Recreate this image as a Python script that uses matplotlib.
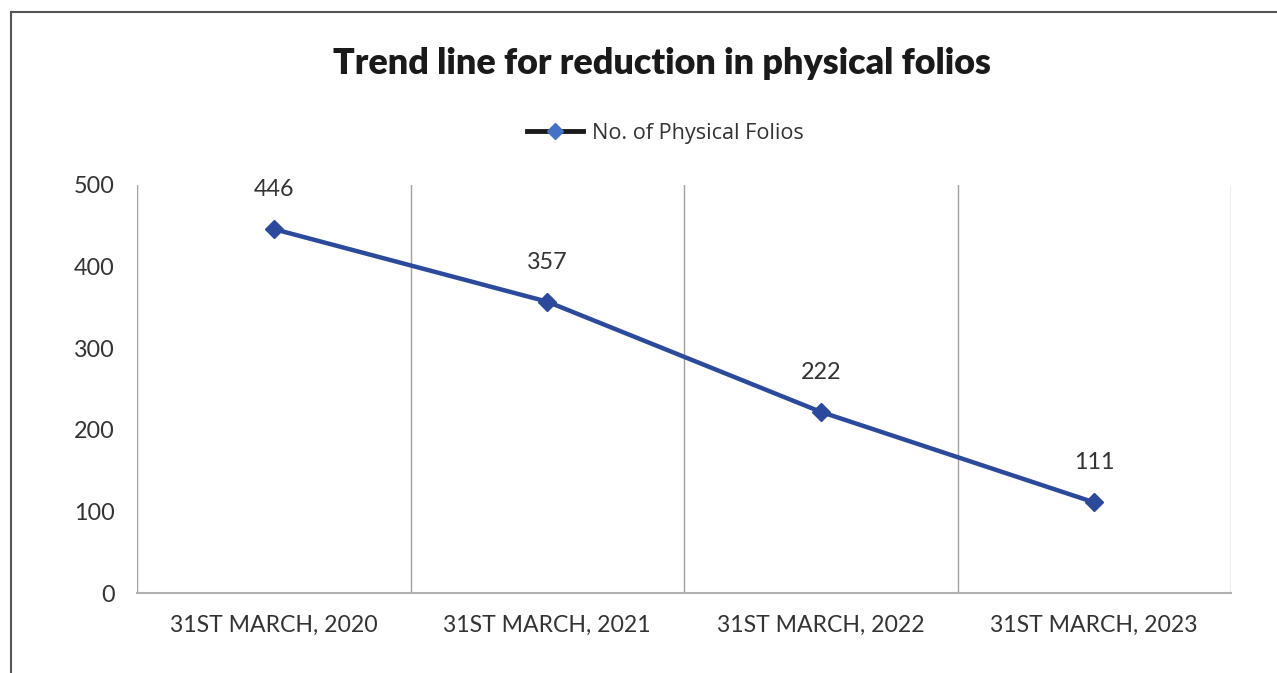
import matplotlib
matplotlib.use("Agg")
import matplotlib.pyplot as plt
from matplotlib.lines import Line2D

categories = ["31ST MARCH, 2020", "31ST MARCH, 2021", "31ST MARCH, 2022", "31ST MARCH, 2023"]
folios = [446, 357, 222, 111]
series_name = "No. of Physical Folios"
title = "Trend line for reduction in physical folios"
yticks = [0, 100, 200, 300, 400, 500]

W, H = 1277, 673
fig = plt.figure(figsize=(W / 100, H / 100), dpi=100)
ax = fig.add_axes([137 / W, 1 - 593 / H, (1231 - 137) / W, (593 - 185) / H])

blue = "#2B4A9C"
x = list(range(len(categories)))
ax.plot(x, folios, color=blue, lw=3.2, marker="D", ms=9, mfc=blue, mec=blue, zorder=3)
for xi, v in zip(x, folios):
    ax.annotate(str(v), (xi, v), xytext=(0, 21), textcoords="offset points",
                ha="center", va="bottom", fontsize=16.8, color="#333333", family="Lato")

ax.set_xlim(-0.5, len(categories) - 0.5)
ax.set_ylim(0, 500)
ax.set_yticks(yticks)
ax.set_yticklabels([str(t) for t in yticks], family="Lato", fontsize=16.8, color="#333333")
ax.set_xticks(x)
ax.set_xticklabels(categories, family="Lato", fontsize=16.6, color="#333333")
ax.tick_params(axis="y", length=0, pad=16)
ax.tick_params(axis="x", length=0, pad=16)

for b in [i - 0.5 for i in range(len(categories) + 1)]:
    ax.axvline(b, color="#A0A0A0", lw=1.0, zorder=1)
for s in ["top", "left", "right"]:
    ax.spines[s].set_visible(False)
ax.spines["bottom"].set_color("#B0B0B0")
ax.spines["bottom"].set_linewidth(1.5)

fig.text(662 / W, 1 - 63 / H, title, ha="center", va="center",
         fontsize=25.8, fontweight="heavy", family="Lato", color="#1a1a1a")

handle = Line2D([], [], color="#1a1a1a", lw=3.5, marker="D", ms=8, mfc="#4472C4", mec="#4472C4")
fig.legend([handle], [series_name], loc="center", bbox_to_anchor=(665 / W, 1 - 133 / H),
           frameon=False, prop={"family": "Open Sans", "size": 15.6}, handlelength=2.6,
           handletextpad=0.4, labelcolor="#333333")

# frame border lines (top and left)
fig.add_artist(Line2D([11 / W, 11 / W], [0, 1 - 12 / H], transform=fig.transFigure, color="#555555", lw=1.5))
fig.add_artist(Line2D([11 / W, 1], [1 - 12 / H, 1 - 12 / H], transform=fig.transFigure, color="#555555", lw=1.5))

fig.savefig("out.png", dpi=100)
